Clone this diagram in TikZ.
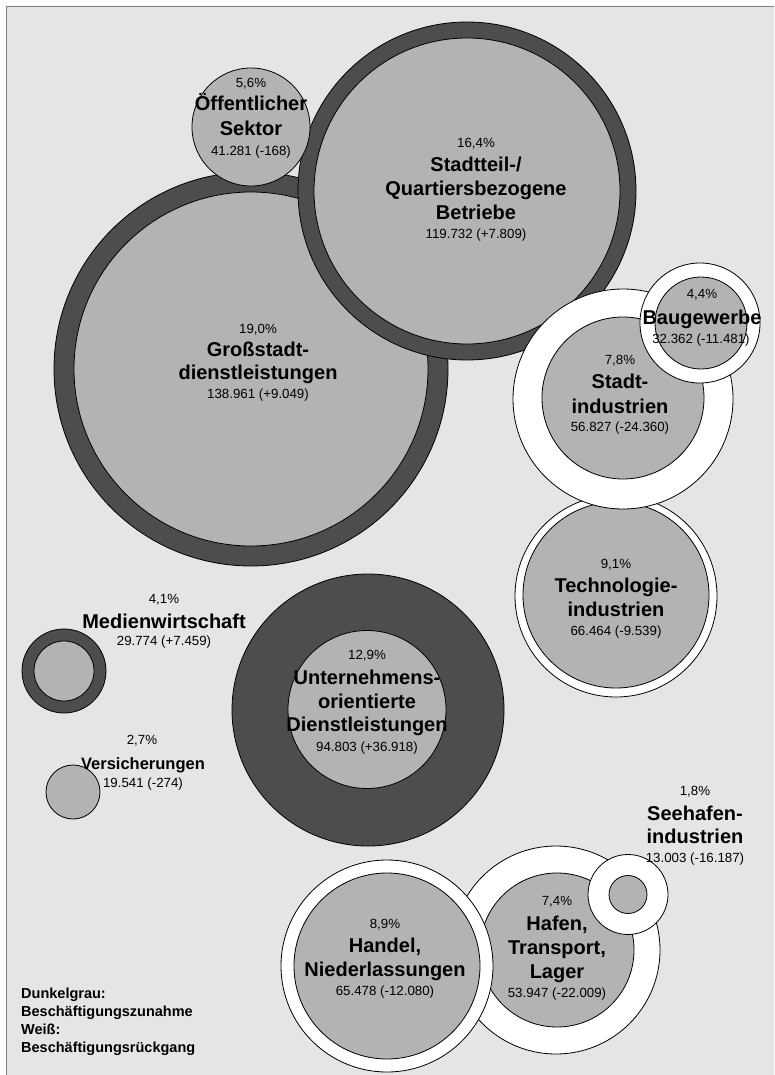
\documentclass[tikz,border=0pt]{standalone}
\usepackage{fontspec}
\setmainfont{Liberation Sans}
\definecolor{bgc}{RGB}{229,229,229}
\definecolor{ringc}{RGB}{77,77,77}
\definecolor{corec}{RGB}{179,179,179}
\definecolor{framec}{RGB}{128,128,128}
\tikzset{
  pct/.style={font=\fontsize{13.3}{15}\selectfont, inner sep=0pt, anchor=base},
  lbl/.style={font=\bfseries\fontsize{20}{24}\selectfont, inner sep=0pt, anchor=base},
  lblsmall/.style={font=\bfseries\fontsize{16.5}{19}\selectfont, inner sep=0pt, anchor=base},
  legendtext/.style={font=\bfseries\fontsize{14.5}{17}\selectfont, inner sep=0pt, anchor=base west},
  darkring/.style={draw=black, fill=ringc, line width=0.8pt},
  whitering/.style={draw=black, fill=white, line width=0.8pt},
  corefill/.style={draw=black, fill=corec, line width=0.8pt}
}
\begin{document}
\begin{tikzpicture}[x=1pt,y=-1pt]
\useasboundingbox (0,0) rectangle (774,1075);
\clip (0,0) rectangle (774,1075);
% background and frame
\fill[bgc] (6.5,6.5) rectangle (790,1090);
\draw[framec, line width=1.6pt] (6.5,1090) -- (6.5,6.5) -- (790,6.5);

% Grossstadtdienstleistungen
\path[darkring] (251,369) circle[radius=197];
\path[corefill] (251,369) circle[radius=177];
% Stadtteil
\path[darkring] (467,191) circle[radius=169];
\path[corefill] (467,191) circle[radius=153];
% Oeffentlicher Sektor
\path[corefill] (251,127) circle[radius=59];
% Technologieindustrien
\path[whitering] (616,596) circle[radius=101];
\path[corefill] (616,595) circle[radius=93];
% Stadtindustrien
\path[whitering] (623,399) circle[radius=110];
\path[corefill] (623,398) circle[radius=81];
% Baugewerbe
\path[whitering] (700,323) circle[radius=60];
\path[corefill] (701,323) circle[radius=46];
% Medienwirtschaft
\path[darkring] (64,671) circle[radius=42];
\path[corefill] (64,671) circle[radius=30];
% Versicherungen
\path[corefill] (73,792) circle[radius=27];
% Unternehmensorientierte
\path[darkring] (368,710) circle[radius=136];
\path[corefill] (367,709.5) circle[radius=79];
% Hafen
\path[whitering] (556,950) circle[radius=104];
\path[corefill] (557,950) circle[radius=77];
% Handel
\path[whitering] (387,966) circle[radius=106];
\path[corefill] (387,966) circle[radius=93];
% Seehafen
\path[whitering] (628,894.5) circle[radius=40];
\path[corefill] (628,894.5) circle[radius=19];

% texts
\node[pct] (o1) at (251,88) {5,6\%};
\node[lbl] (o2) at (251,111) {Öffentlicher};
\node[lbl] (o3) at (251,136) {Sektor};
\node[pct] (o4) at (251,156) {41.281 (-168)};

\node[pct] (s1) at (476,148) {16,4\%};
\node[lbl] (s2) at (476,171.5) {Stadtteil-/};
\node[lbl] (s3) at (476,195.5) {Quartiersbezogene};
\node[lbl] (s4) at (476,219.5) {Betriebe};
\node[pct] (s5) at (476,238) {119.732 (+7.809)};

\node[pct] (g1) at (258,333) {19,0\%};
\node[lbl] (g2) at (258,356.5) {Großstadt-};
\node[lbl] (g3) at (258,379.5) {dienstleistungen};
\node[pct] (g4) at (258,398) {138.961 (+9.049)};

\node[pct] (b1) at (702,298) {4,4\%};
\node[lbl] (b2) at (702,324) {Baugewerbe};
\node[pct] (b3) at (701,343) {32.362 (-11.481)};

\node[pct] (i1) at (620,364) {7,8\%};
\node[lbl] (i2) at (620,388) {Stadt-};
\node[lbl] (i3) at (620,413.5) {industrien};
\node[pct] (i4) at (620,431) {56.827 (-24.360)};

\node[pct] (t1) at (616,568) {9,1\%};
\node[lbl] (t2) at (616,592) {Technologie-};
\node[lbl] (t3) at (616,616) {industrien};
\node[pct] (t4) at (616,635) {66.464 (-9.539)};

\node[pct] (m1) at (164,603) {4,1\%};
\node[lbl] (m2) at (164,628) {Medienwirtschaft};
\node[pct] (m3) at (164,645) {29.774 (+7.459)};

\node[pct] (v1) at (142,744) {2,7\%};
\node[lblsmall] (v2) at (143,769) {Versicherungen};
\node[pct] (v3) at (143,787) {19.541 (-274)};

\node[pct] (u1) at (367,659) {12,9\%};
\node[lbl] (u2) at (367,684) {Unternehmens-};
\node[lbl] (u3) at (367,708) {orientierte};
\node[lbl] (u4) at (367,731) {Dienstleistungen};
\node[pct] (u5) at (367,751) {94.803 (+36.918)};

\node[pct] (e1) at (695,795) {1,8\%};
\node[lbl] (e2) at (695,820) {Seehafen-};
\node[lbl] (e3) at (695,843) {industrien};
\node[pct] (e4) at (695,862) {13.003 (-16.187)};

\node[pct] (h1) at (557,905) {7,4\%};
\node[lbl] (h2) at (557,930) {Hafen,};
\node[lbl] (h3) at (557,954) {Transport,};
\node[lbl] (h4) at (557,978) {Lager};
\node[pct] (h5) at (557,997) {53.947 (-22.009)};

\node[pct] (n1) at (385,928) {8,9\%};
\node[lbl] (n2) at (385,952) {Handel,};
\node[lbl] (n3) at (385,976) {Niederlassungen};
\node[pct] (n4) at (385,995) {65.478 (-12.080)};

% legend
\node[legendtext] (l1) at (21,998) {Dunkelgrau:};
\node[legendtext] (l2) at (21,1016) {Beschäftigungszunahme};
\node[legendtext] (l3) at (21,1034) {Weiß:};
\node[legendtext] (l4) at (21,1052) {Beschäftigungsrückgang};
\end{tikzpicture}
\end{document}
